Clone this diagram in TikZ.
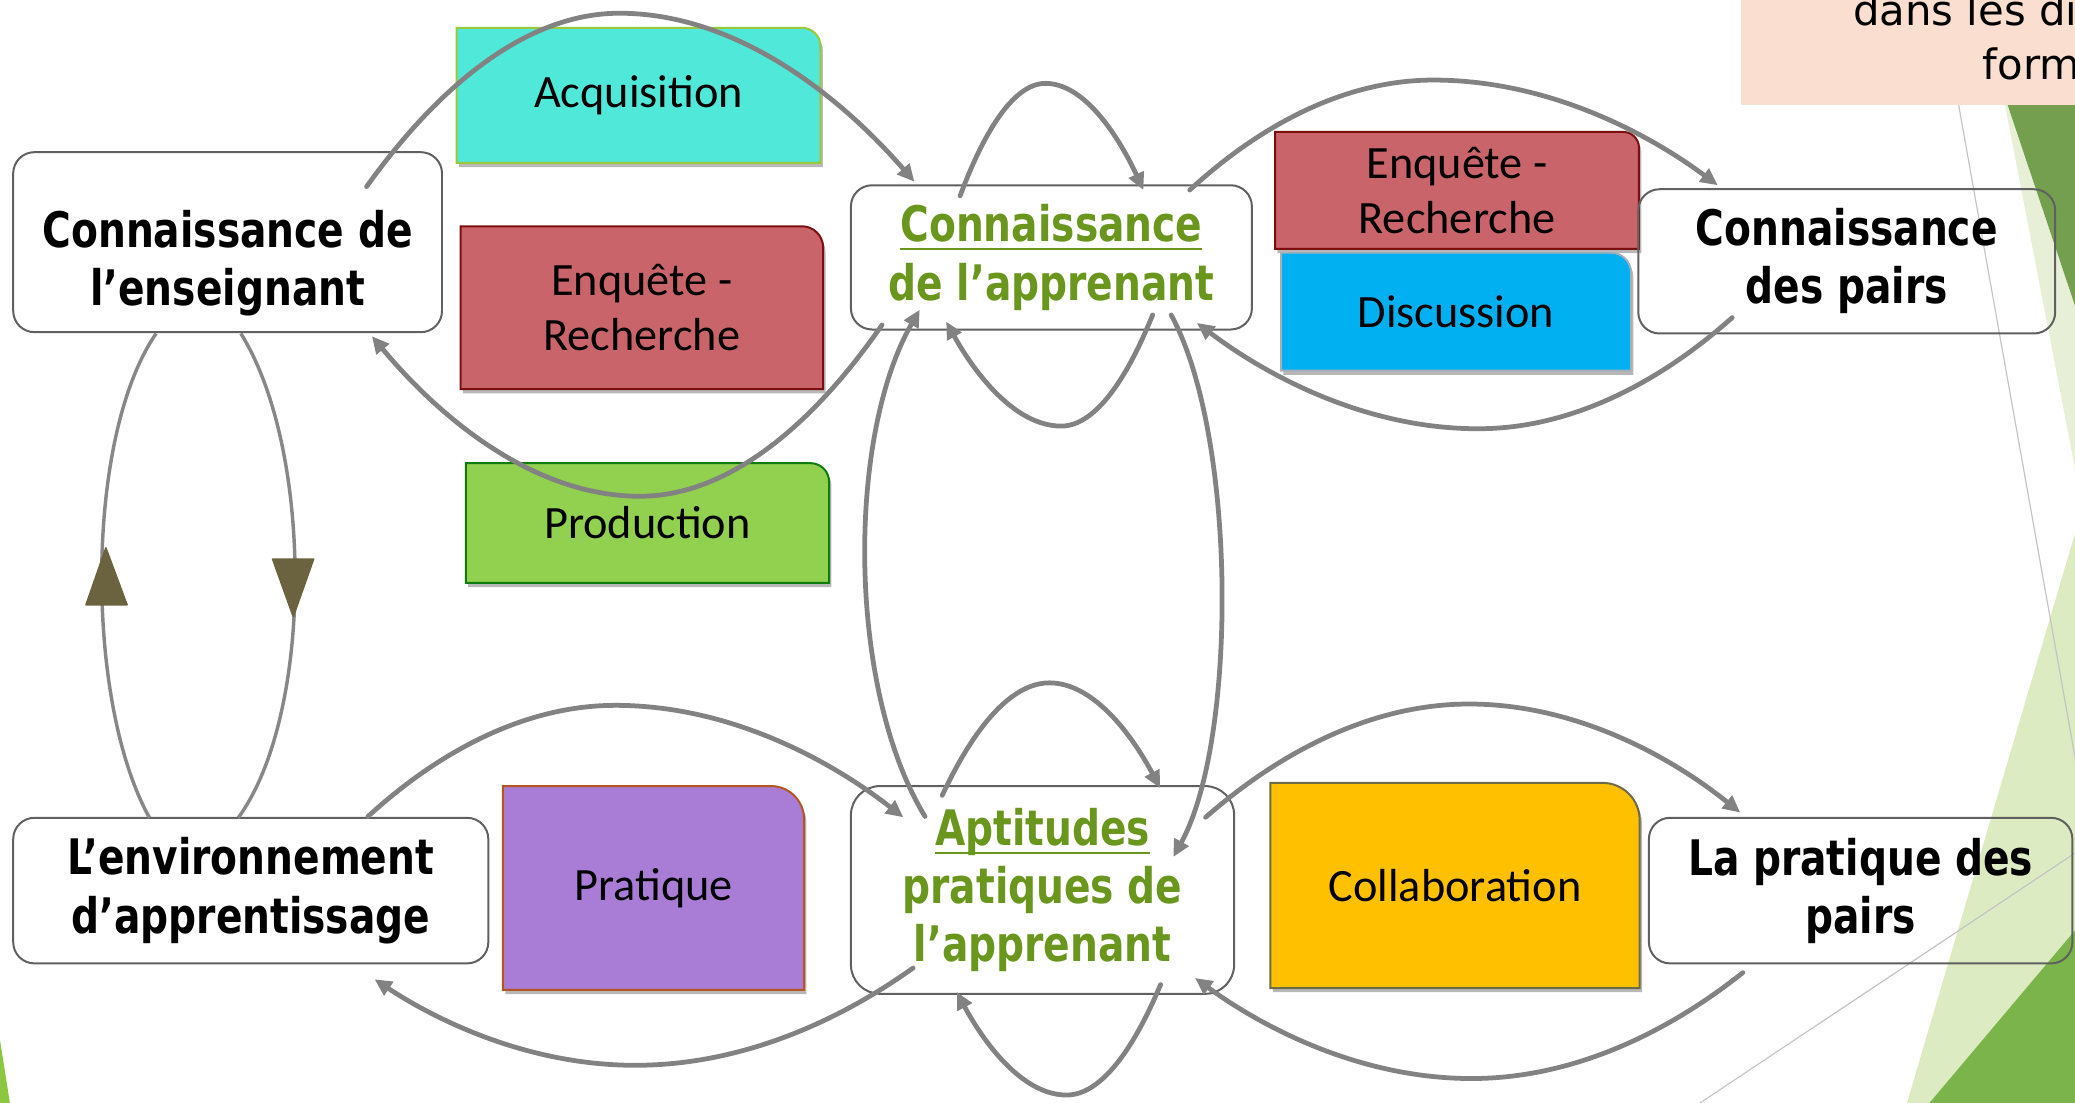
\documentclass[tikz,border=0pt]{standalone}
\usepackage{fontspec}
\usetikzlibrary{calc,arrows.meta}
\newfontfamily\tahb[FakeStretch=0.80]{DejaVu Sans Bold}
\newfontfamily\tahr{DejaVu Sans}
\newfontfamily\calib{Carlito}
\definecolor{peach}{HTML}{FADED0}
\definecolor{lgreenA}{HTML}{E7F0D7}
\definecolor{dgreenA}{HTML}{739F4E}
\definecolor{lgreenB}{HTML}{DCEBC1}
\definecolor{dgreenB}{HTML}{7BB44A}
\definecolor{limec}{HTML}{8DC641}
\definecolor{thinc}{HTML}{C4C4C4}
\definecolor{boxgray}{HTML}{606060}
\definecolor{conngray}{HTML}{828282}
\definecolor{loopgray}{HTML}{878787}
\definecolor{olivec}{HTML}{6B6340}
\definecolor{txtgreen}{HTML}{6A961E}
\definecolor{acqfill}{HTML}{50E8D8}
\definecolor{acqdraw}{HTML}{9BC83A}
\definecolor{enqfill}{HTML}{C9646A}
\definecolor{enqdraw}{HTML}{7B0F0F}
\definecolor{prodfill}{HTML}{92D050}
\definecolor{proddraw}{HTML}{0F7B0F}
\definecolor{discfill}{HTML}{00B0F0}
\definecolor{discdraw}{HTML}{A6AFB8}
\definecolor{pratfill}{HTML}{A97CD6}
\definecolor{pratdraw}{HTML}{B6561E}
\definecolor{collfill}{HTML}{FFC000}
\definecolor{colldraw}{HTML}{6E6A48}
\newsavebox\ulbox
\newcommand\myul[1]{\sbox\ulbox{#1}\rlap{\rule[-3.2pt]{\wd\ulbox}{0.8pt}}\usebox\ulbox}
\newcommand\tabpath[2]{(#1.south west) -- (#1.north west) -- ([xshift=-#2]#1.north east) arc[start angle=90, end angle=0, radius=#2] -- (#1.south east) -- cycle}
\newcommand\cbx[8]{%
  \node[cbox, minimum width=#3, minimum height=#4] (#1) at #2 {};
  \fill[black, opacity=0.28, transform canvas={xshift=0.9pt, yshift=-1.6pt}] \tabpath{#1}{#5};
  \path[fill=#6, draw=#7, line width=0.75pt] \tabpath{#1}{#5};
  \node[ctext] (#1t) at (#1.center) {#8};
}
\tikzset{
  wbox/.style={rectangle, draw=boxgray, line width=0.75pt, rounded corners=8pt, inner sep=0pt, outer sep=0pt},
  btext/.style={font=\fontsize{18.5pt}{22pt}\selectfont\tahb, align=center},
  ctext/.style={font=\fontsize{17.5pt}{20.75pt}\selectfont\calib, align=center, inner sep=0pt},
  ptext/.style={font=\fontsize{15.8pt}{19pt}\selectfont\tahr, inner sep=0pt},
  cbox/.style={rectangle, inner sep=0pt, outer sep=0pt},
  conn/.style={draw=conngray, line width=1.8pt, line cap=round, -{Triangle[length=6.5pt,width=6pt]}},
  lloop/.style={draw=loopgray, line width=1.3pt},
  thinl/.style={draw=thinc, line width=0.45pt}
}
\begin{document}
\begin{tikzpicture}[x=0.5pt,y=-0.5pt]
\useasboundingbox (0,0) rectangle (1568,833.5);
\clip (0,0) rectangle (1568,833.5);
% background decoration
\fill[lgreenA] (1515,79) -- (1568,79) -- (1568,354) -- cycle;
\fill[dgreenA] (1517,79) -- (1568,79) -- (1568,231) -- cycle;
\fill[lgreenB] (1568,403) -- (1441,833.5) -- (1568,833.5) -- cycle;
\fill[dgreenB] (1568,703) -- (1458,833.5) -- (1568,833.5) -- cycle;
\fill[limec] (0,786) -- (7.5,833.5) -- (0,833.5) -- cycle;
\draw[thinl] (1480,79) -- (1568.5,575);
\draw[thinl] (1284.6,833.5) -- (1568.5,644.3);
\fill[peach] (1315.6,0) rectangle (1568,79.4);
\node[ptext, anchor=base west] (p1) at (1400,19) {dans les di};
\node[ptext, anchor=base west] (p2) at (1498,60) {form};
% coloured boxes
\cbx{acq}{(482.5,72)}{137.5pt}{51pt}{7pt}{acqfill}{acqdraw}{Acquisition}
\cbx{enql}{(485,232.5)}{137pt}{61.5pt}{8pt}{enqfill}{enqdraw}{Enquête -\\Recherche}
\cbx{prod}{(489.25,395.25)}{137.25pt}{45.25pt}{7pt}{prodfill}{proddraw}{Production}
\cbx{enqr}{(1101,143.85)}{137.5pt}{44.15pt}{6pt}{enqfill}{enqdraw}{Enquête -\\Recherche}
\cbx{disc}{(1100.25,235.5)}{132.25pt}{44.5pt}{7.5pt}{discfill}{discdraw}{Discussion}
\cbx{prat}{(493.8,671)}{113.8pt}{77pt}{12.5pt}{pratfill}{pratdraw}{Pratique}
\cbx{coll}{(1099.5,669.1)}{139.5pt}{77.5pt}{14pt}{collfill}{colldraw}{Collaboration}
% white boxes
\node[wbox, minimum width=162pt, minimum height=68pt] (A) at (172,183) {};
\node[btext] (At) at (172,199) {Connaissance de\\l’enseignant};
\node[wbox, btext, text=txtgreen, minimum width=151.5pt, minimum height=54.5pt] (B) at (794.5,194.5) {\myul{Connaissance}\\de l’apprenant};
\node[wbox, btext, minimum width=157.5pt, minimum height=54.5pt] (C) at (1395.5,197.5) {Connaissance\\des pairs};
\node[wbox, btext, minimum width=179.5pt, minimum height=55pt] (D) at (189.5,673) {L’environnement\\d’apprentissage};
\node[wbox, btext, text=txtgreen, rounded corners=11pt, minimum width=144.8pt, minimum height=78.5pt] (E) at (787.8,672.5) {\myul{Aptitudes}\\pratiques de\\l’apprenant};
\node[wbox, btext, minimum width=160pt, minimum height=55pt] (F) at (1406,673) {La pratique des\\pairs};
% connectors
\draw[conn] ($(A.north east)+(-57,26)$) parabola bend (468,10) ($(B.north west)+(48,-2.7)$);
\draw[conn] ($(B.north west)+(82.5,8)$) parabola bend (790,63) ($(B.north west)+(221,3.6)$);
\draw[conn] ($(B.north east)+(-47,3.6)$) parabola bend (1083,60.5) ($(C.north west)+(60,-3)$);
\draw[conn] ($(C.south west)+(71,-12)$) parabola bend (1117,324) ($(B.south east)+(-41.5,-5)$);
\draw[conn] ($(B.south west)+(23.5,-3.4)$) parabola bend (483.6,375) ($(A.south east)+(-53,3)$);
\draw[conn] ($(B.south east)+(-75,-11)$) parabola bend (802,322) ($(B.south west)+(72,-6)$);
\draw[conn] ($(E.north west)+(56,23)$) .. controls (640,520) and (640,330) .. ($(B.south west)+(52,-15)$);
\draw[conn] ($(B.south east)+(-61,-11)$) .. controls (935,330) and (935,560) .. ($(E.north east)+(-46,53.6)$);
\draw[conn] ($(E.north west)+(69,7)$) parabola bend (793,516) ($(E.north east)+(-56,1.5)$);
\draw[conn] ($(D.north east)+(-91,-1)$) parabola bend (465,533) ($(E.north west)+(39.6,23.6)$);
\draw[conn] ($(E.south west)+(47,-19.5)$) parabola bend (480,805) ($(D.south east)+(-86,12)$);
\draw[conn] ($(E.south east)+(-55.6,-7)$) parabola bend (806,827.5) ($(E.south west)+(80,-1.4)$);
\draw[conn] ($(E.north east)+(-21.6,23.6)$) parabola bend (1110,532) ($(F.north west)+(69,-4)$);
\draw[conn] ($(F.south west)+(71,7)$) parabola bend (1112,815) ($(E.south east)+(-29.6,-12)$);
% loop between teacher knowledge and environment
\draw[lloop] ($(D.north west)+(103,0)$) .. controls (64,530) and (64,330) .. ($(A.south west)+(108,1)$);
\draw[lloop] ($(A.south west)+(172,1)$) .. controls (237,340) and (237,540) .. ($(D.north west)+(170,0)$);
\fill[olivec, draw=olivec, line width=0.6pt, line join=round] (80,414) -- (65,457) -- (96,457) -- cycle;
\fill[olivec, draw=olivec, line width=0.6pt, line join=round] (206,422.5) -- (237,422.5) -- (221.6,466) -- cycle;
\end{tikzpicture}
\end{document}
